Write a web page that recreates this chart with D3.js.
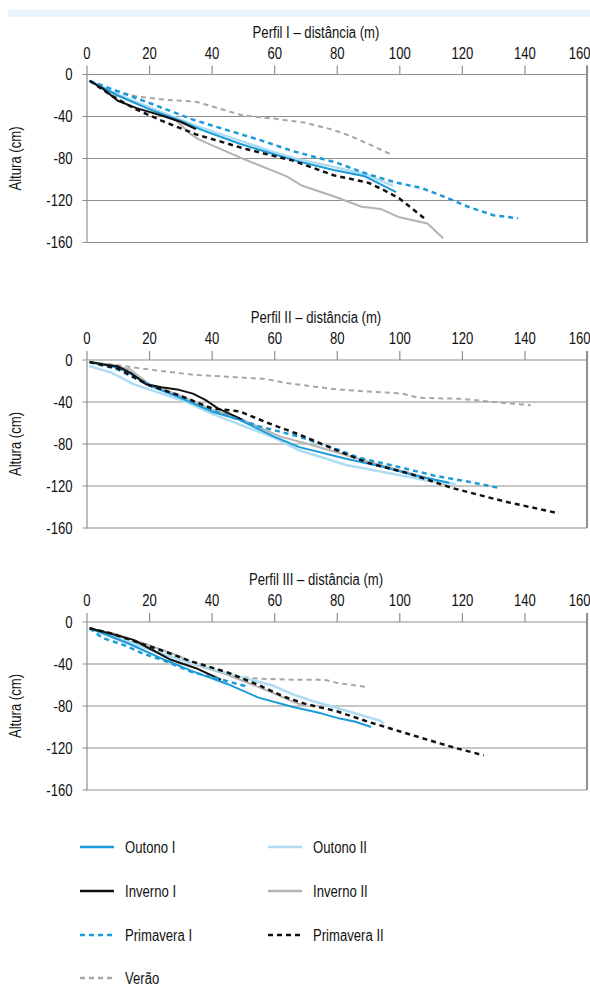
<!doctype html>
<html>
<head>
<meta charset="utf-8">
<script src="https://cdn.jsdelivr.net/npm/d3@7"></script>
<style>
  body { margin: 0; background: #fff; }
  svg text { font-family: "Liberation Sans", Arial, sans-serif; fill: #111; }
</style>
</head>
<body>
<svg id="chart" width="590" height="987"></svg>
<script>
// ---- data: [distância (m), altura (cm)] ----
var xTicks = [0, 20, 40, 60, 80, 100, 120, 140, 160];
var yTicks = [0, -40, -80, -120, -160];
var titles = ["Perfil I \u2013 distância (m)", "Perfil II \u2013 distância (m)", "Perfil III \u2013 distância (m)"];
var seriesNames = ["Outono I", "Outono II", "Inverno I", "Inverno II", "Primavera I", "Primavera II", "Verão"];

// Perfil I
var p1Outono1 = [[1,-6],[10,-20],[20,-33],[30,-44],[37,-53],[49,-66],[60,-76],[68,-83],[79,-91],[89,-97],[99,-112]];
var p1Outono2 = [[1,-6],[10,-19],[20,-31],[30,-43],[37,-51],[49,-63],[60,-74],[68,-81],[79,-88],[89,-95],[98,-106]];
var p1Inverno1 = [[1,-6],[5,-13],[10,-25],[16,-32],[24,-39],[30,-45],[35,-52]];
var p1Inverno2 = [[1,-6],[10,-20],[20,-32],[28,-42],[33,-56],[36,-62],[49,-79],[64,-97],[69,-106],[79,-116],[88,-126],[94,-128],[100,-136],[109,-142],[114,-156]];
var p1Primavera1 = [[1,-6],[10,-16],[20,-27],[34,-43],[45,-53],[55,-62],[66,-73],[80,-84],[90,-95],[99,-103],[107,-108],[114,-116],[122,-126],[130,-134],[138,-137]];
var p1Primavera2 = [[1,-6],[8,-20],[15,-32],[24,-44],[35,-57],[51,-71],[66,-82],[79,-96],[90,-103],[95,-110],[100,-118],[108,-137]];
var p1Verao = [[1,-6],[10,-16],[16,-21],[25,-24],[35,-26],[42,-32],[50,-39],[60,-42],[70,-46],[78,-52],[84,-58],[90,-66],[98,-77]];

// Perfil II
var p2Outono1 = [[1,-2],[8,-6],[13,-11],[20,-24],[30,-36],[40,-49],[49,-57],[60,-73],[68,-83],[83,-94],[95,-102],[105,-110],[116,-117]];
var p2Outono2 = [[1,-6],[8,-12],[15,-23],[20,-28],[32,-40],[40,-51],[53,-66],[60,-74],[68,-86],[83,-100],[99,-109],[111,-116],[118,-118]];
var p2Inverno1 = [[1,-2],[5,-4],[10,-6],[14,-12],[19,-23],[24,-26],[29,-28],[34,-32],[38,-38],[42,-46],[50,-57]];
var p2Inverno2 = [[1,-2],[8,-5],[14,-9],[20,-23],[30,-34],[40,-47],[50,-57],[62,-73],[72,-81],[88,-95],[100,-105],[111,-114],[115,-119]];
var p2Primavera1 = [[1,-2],[10,-9],[20,-24],[30,-35],[40,-48],[55,-63],[68,-73],[80,-85],[87,-93],[100,-102],[111,-110],[124,-117],[132,-122]];
var p2Primavera2 = [[1,-2],[10,-8],[20,-24],[30,-34],[40,-46],[49,-49],[58,-60],[68,-71],[80,-86],[90,-98],[103,-108],[117,-122],[134,-135],[151,-146]];
var p2Verao = [[1,-2],[10,-5],[20,-9],[34,-14],[45,-16],[57,-18],[64,-22],[80,-28],[90,-30],[101,-32],[106,-36],[120,-37],[130,-40],[142,-43]];

// Perfil III
var p3Outono1 = [[1,-6],[13,-20],[25,-36],[34,-47],[45,-59],[55,-72],[66,-81],[75,-87],[81,-92],[86,-95],[91,-100]];
var p3Outono2 = [[1,-6],[10,-15],[20,-26],[30,-36],[38,-43],[50,-53],[60,-61],[66,-69],[72,-75],[79,-81],[87,-88],[94,-94],[95,-97]];
var p3Inverno1 = [[1,-6],[10,-13],[15,-17],[20,-25],[27,-36],[35,-44],[43,-55]];
var p3Inverno2 = [[1,-6],[10,-12],[20,-22],[30,-33],[35,-41],[44,-49],[50,-56],[60,-68],[66,-76],[70,-80]];
var p3Primavera1 = [[1,-6],[5,-15],[12,-22],[18,-30],[25,-37],[34,-48],[42,-54],[52,-62]];
var p3Primavera2 = [[1,-6],[8,-11],[15,-18],[25,-28],[33,-37],[45,-48],[55,-60],[63,-71],[70,-78],[80,-85],[90,-95],[100,-104],[110,-113],[118,-120],[127,-127]];
var p3Verao = [[1,-6],[5,-9],[10,-14],[20,-24],[30,-34],[40,-44],[47,-52],[55,-54],[66,-55],[76,-55],[80,-58],[90,-62]];

var panels = [
  [p1Outono1, p1Outono2, p1Inverno1, p1Inverno2, p1Primavera1, p1Primavera2, p1Verao],
  [p2Outono1, p2Outono2, p2Inverno1, p2Inverno2, p2Primavera1, p2Primavera2, p2Verao],
  [p3Outono1, p3Outono2, p3Inverno1, p3Inverno2, p3Primavera1, p3Primavera2, p3Verao]
];

// ---- styles ----
var colors = ["#1b9ad7", "#addcf3", "#111111", "#b3b3b3", "#1b9ad7", "#111111", "#a6a6a6"];
var dashes = [null, null, null, null, "5,4", "5,4", "5,4"];
var widths = [2, 2.5, 2, 2, 2.5, 2.5, 2];
var drawOrder = [6, 3, 1, 0, 2, 4, 5];
var narrow = "scale(0.82,1)";   // condensed look
var fs = 16;

var svg = d3.select("#chart");

svg.append("rect")
  .attr("x", 8).attr("y", 10).attr("width", 582).attr("height", 7)
  .attr("fill", "#e9f5fc");

var axisTops = [74.5, 360, 622];
var plotH = 168;

var x = d3.scaleLinear().domain([0, 160]).range([86.5, 587]);

function placeText(g, tx, ty, str, anchor){
  return g.append("text")
    .attr("transform", "translate(" + tx + "," + ty + ") " + narrow)
    .attr("text-anchor", anchor || "start")
    .attr("font-size", fs)
    .text(str);
}

panels.forEach(function(series, p){
  var top = axisTops[p];
  var y = d3.scaleLinear().domain([0, -160]).range([top, top + plotH]);
  var g = svg.append("g");

  // gridlines
  g.selectAll(".grid").data(yTicks.slice(1)).enter().append("line")
    .attr("x1", x(0) - 4).attr("x2", x(160))
    .attr("y1", function(d){ return y(d); })
    .attr("y2", function(d){ return y(d); })
    .attr("stroke", "#8f8f8f").attr("stroke-width", 1.2);

  // top axis
  var ax = g.append("g")
    .attr("transform", "translate(0," + top + ")")
    .call(d3.axisTop(x).tickValues(xTicks).tickSize(9).tickPadding(7));
  ax.select(".domain").attr("stroke", "#8f8f8f").attr("stroke-width", 1.2)
    .attr("d", "M" + (x(0) - 4) + ",0H" + x(160));
  ax.selectAll(".tick line").attr("stroke", "#8f8f8f").attr("stroke-width", 1.2);
  ax.selectAll(".tick text")
    .attr("font-size", fs).attr("fill", "#111")
    .attr("font-family", "Liberation Sans, Arial, sans-serif")
    .attr("transform", narrow)
    .filter(function(d){ return d === 160; })
    .attr("text-anchor", "end").attr("x", 3 / 0.82);

  // left axis
  var ay = g.append("g")
    .attr("transform", "translate(" + x(0) + ",0)")
    .call(d3.axisLeft(y).tickValues(yTicks).tickSize(0).tickPadding(17)
      .tickFormat(function(d){ return String(d); }));
  ay.select(".domain").attr("stroke", "#8f8f8f").attr("stroke-width", 1.2);
  ay.selectAll(".tick text")
    .attr("font-size", fs).attr("fill", "#111")
    .attr("font-family", "Liberation Sans, Arial, sans-serif")
    .attr("transform", narrow);

  // right border
  g.append("line")
    .attr("x1", x(160)).attr("x2", x(160))
    .attr("y1", top - 9).attr("y2", y(-160))
    .attr("stroke", "#8f8f8f").attr("stroke-width", 2);

  placeText(g, 316, top - 37, titles[p], "middle");

  g.append("text")
    .attr("transform", "translate(21," + (top + plotH / 2) + ") rotate(-90) " + narrow)
    .attr("text-anchor", "middle").attr("font-size", fs)
    .text("Altura (cm)");

  var line = d3.line()
    .x(function(d){ return x(d[0]); })
    .y(function(d){ return y(d[1]); });

  drawOrder.forEach(function(i){
    g.append("path")
      .attr("d", line(series[i]))
      .attr("fill", "none")
      .attr("stroke", colors[i])
      .attr("stroke-width", widths[i])
      .attr("stroke-dasharray", dashes[i])
      .attr("stroke-linejoin", "round");
  });
});

// ---- legend ----
var legendX = [80, 268];
var legendY = [847, 891, 935, 978];
seriesNames.forEach(function(name, i){
  var lx = legendX[i % 2], ly = legendY[Math.floor(i / 2)];
  svg.append("line")
    .attr("x1", lx).attr("x2", lx + 34)
    .attr("y1", ly).attr("y2", ly)
    .attr("stroke", colors[i]).attr("stroke-width", 2.5)
    .attr("stroke-dasharray", dashes[i]);
  placeText(svg, lx + 45, ly + 5.5, name);
});
</script>
</body>
</html>
